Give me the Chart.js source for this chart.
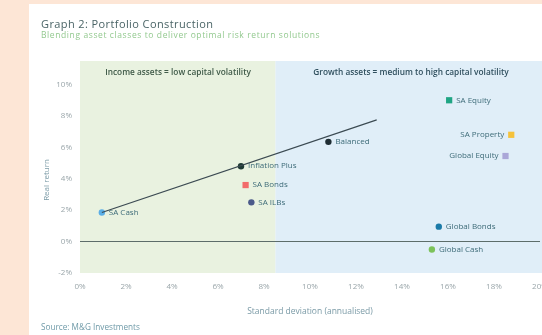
<!DOCTYPE html>
<html>
<head>
<meta charset="utf-8">
<script src="https://cdn.jsdelivr.net/npm/chart.js@4"></script>
<style>
  html, body { margin: 0; padding: 0; }
  body { width: 542px; height: 335px; overflow: hidden; background: #fde6d6; position: relative; font-family: 'Open Sans', sans-serif; }
  #card { position: absolute; left: 29px; top: 4px; width: 540px; height: 340px; background: #ffffff; }
  #title { position: absolute; left: 41px; top: 16px; font-size: 11px; letter-spacing: 0.4px; color: #4a6466; }
  #subtitle { position: absolute; left: 41px; top: 29px; font-size: 8.5px; letter-spacing: 0.6px; color: #93c98f; }
  #source { position: absolute; left: 41px; top: 321px; font-size: 8.2px; color: #6f9aa8; }
  #wrap { position: absolute; left: 0; top: 0; width: 560px; height: 335px; }
</style>
</head>
<body>
<div id="card"></div>
<div id="wrap"><canvas id="portfolio"></canvas></div>
<div id="title">Graph 2: Portfolio Construction</div>
<div id="subtitle">Blending asset classes to deliver optimal risk return solutions</div>
<div id="source">Source: M&amp;G Investments</div>
<script>
// asset classes, risk (standard deviation %) and real return (%)
const assetNames = ['SA Cash', 'Inflation Plus', 'SA Bonds', 'SA ILBs', 'Balanced', 'SA Equity', 'SA Property', 'Global Equity', 'Global Bonds', 'Global Cash'];
const riskValues = [0.95, 7.0, 7.2, 7.45, 10.8, 16.05, 18.75, 18.5, 15.6, 15.3];
const returnValues = [1.85, 4.8, 3.6, 2.5, 6.35, 9.0, 6.8, 5.45, 0.95, -0.5];
const assetColors = ['#5aaee6', '#1e3a34', '#f26b6b', '#4b5a8a', '#1f2d33', '#1fa584', '#f5c23c', '#aaa7d8', '#1a7aa8', '#7cc25a'];
const assetShapes = ['circle', 'circle', 'rect', 'circle', 'circle', 'rect', 'rect', 'rect', 'circle', 'circle'];
const labelLeft = [false, false, false, false, false, false, true, true, false, false];

// trend line from SA Cash
const lineRisk = [0.95, 12.9];
const lineReturn = [1.85, 7.75];

// shaded zones
const zoneSplit = 8.5;
const zoneNames = ['Income assets = low capital volatility', 'Growth assets = medium to high capital volatility'];

const xTicks = [0, 2, 4, 6, 8, 10, 12, 14, 16, 18, 20];
const yTicks = [-2, 0, 2, 4, 6, 8, 10];

const zonesPlugin = {
  id: 'zones',
  beforeDraw(chart) {
    const {ctx, chartArea, scales} = chart;
    const xs = scales.x;
    const split = xs.getPixelForValue(zoneSplit);
    ctx.save();
    ctx.fillStyle = '#e9f2e0';
    ctx.fillRect(chartArea.left, chartArea.top, split - chartArea.left, chartArea.bottom - chartArea.top);
    ctx.fillStyle = '#e0eef8';
    ctx.fillRect(split, chartArea.top, chartArea.right + 20 - split, chartArea.bottom - chartArea.top);
    ctx.font = '600 8.3px "Open Sans"';
    ctx.fillStyle = '#3f5a48';
    ctx.textAlign = 'center';
    ctx.textBaseline = 'middle';
    ctx.fillText(zoneNames[0], 178, chartArea.top + 12);
    ctx.fillStyle = '#2f4f5e';
    ctx.fillText(zoneNames[1], 411, chartArea.top + 12);
    // y axis title
    ctx.font = '8px "Open Sans"';
    ctx.fillStyle = '#7a9aa6';
    ctx.translate(47, 180);
    ctx.rotate(-Math.PI / 2);
    ctx.fillText('Real return', 0, 0);
    ctx.restore();
  },
  afterDatasetsDraw(chart) {
    const {ctx} = chart;
    const meta = chart.getDatasetMeta(1);
    ctx.save();
    ctx.font = '8px "Open Sans"';
    ctx.fillStyle = '#3d6b78';
    ctx.textBaseline = 'middle';
    meta.data.forEach((pt, i) => {
      if (labelLeft[i]) {
        ctx.textAlign = 'right';
        ctx.fillText(assetNames[i], pt.x - 7, pt.y);
      } else {
        ctx.textAlign = 'left';
        ctx.fillText(assetNames[i], pt.x + 7, pt.y);
      }
    });
    ctx.restore();
  }
};

const ctx = document.getElementById('portfolio').getContext('2d');
const portfolioChart = new Chart(ctx, {
  type: 'scatter',
  data: {
    datasets: [
      {
        type: 'line',
        data: lineRisk.map((x, i) => ({x: x, y: lineReturn[i]})),
        borderColor: '#3b4a52',
        borderWidth: 1.2,
        pointRadius: 0,
        fill: false,
        tension: 0,
      },
      {
        data: riskValues.map((x, i) => ({x: x, y: returnValues[i]})),
        pointBackgroundColor: assetColors,
        pointBorderColor: assetColors,
        pointStyle: assetShapes,
        pointRadius: assetShapes.map(s => s === 'rect' ? 4.4 : 3.2),
        pointBorderWidth: 0,
      },
    ],
  },
  options: {
    responsive: true,
    maintainAspectRatio: false,
    animation: false,
    layout: { padding: { left: 0, right: 20, top: 61, bottom: 0 } },
    plugins: {
      legend: { display: false },
      tooltip: { enabled: false },
    },
    scales: {
      x: {
        type: 'linear',
        min: 0,
        max: 20,
        afterBuildTicks: (scale) => { scale.ticks = xTicks.map(v => ({value: v})); },
        afterFit: (scale) => { scale.height = 62; },
        grid: { display: false, drawTicks: false },
        border: { display: false },
        ticks: {
          color: '#9aa6aa',
          font: { size: 8, family: 'Open Sans' },
          padding: 9,
          maxRotation: 0,
          callback: (value) => value + '%',
        },
        title: {
          display: true,
          text: 'Standard deviation (annualised)',
          color: '#7a9aa6',
          font: { size: 8.5, family: 'Open Sans' },
          padding: { top: 0, bottom: 18 },
        },
      },
      y: {
        type: 'linear',
        min: -2,
        max: 11.5,
        afterBuildTicks: (scale) => { scale.ticks = yTicks.map(v => ({value: v})); },
        afterFit: (scale) => { scale.width = 80; },
        grid: {
          drawTicks: false,
          color: (c) => c.tick && c.tick.value === 0 ? '#5d6d6a' : 'rgba(0,0,0,0)',
          lineWidth: 1,
        },
        border: { display: false },
        ticks: {
          color: '#9aa6aa',
          font: { size: 8, family: 'Open Sans' },
          padding: 8,
          callback: (value) => value + '%',
        },
      },
    },
  },
  plugins: [zonesPlugin],
});
</script>
</body>
</html>
